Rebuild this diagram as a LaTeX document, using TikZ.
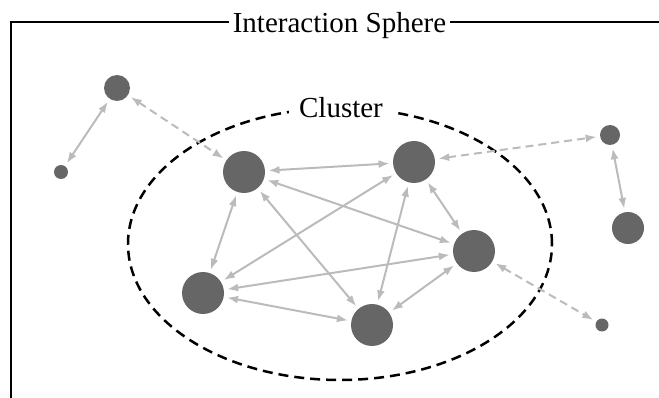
\documentclass[tikz,border=0pt]{standalone}
\usepackage{fontspec}
\setmainfont{Liberation Serif}
\usetikzlibrary{arrows.meta}
\definecolor{dotgray}{HTML}{666666}
\definecolor{linkgray}{HTML}{BBBBBB}

\begin{document}
\begin{tikzpicture}[x=1pt, y=-1pt,
  agent/.style={circle, fill=dotgray, inner sep=0pt, outer sep=3.5pt, minimum size=#1},
  link/.style={draw=linkgray, line width=2pt, {Latex[length=11pt,width=8pt]}-{Latex[length=11pt,width=8pt]}},
  weaklink/.style={link, dash pattern=on 8pt off 5pt},
  frame/.style={line width=2.5pt},
  caption/.style={font=\fontsize{29}{34}\selectfont, inner xsep=4pt, inner ysep=2pt}]
  \useasboundingbox (0,0) rectangle (659,398);

  % sphere frame
  \node[caption, anchor=base] (sphere) at (339.5,33) {Interaction Sphere};
  \coordinate (topleft) at (11,22);
  \draw[frame] (11,400) -- (topleft) -- (topleft -| sphere.west);
  \draw[frame] (topleft -| sphere.east) -- (662,22);

  % cluster
  \draw[frame, dash pattern=on 10pt off 6pt] (340,244) ellipse [x radius=212pt, y radius=136pt];
  \node[caption, fill=white, inner xsep=10pt] (cluster) at (341,108) {Cluster};

  % agents
  \node[agent=26pt] (a) at (117,88) {};
  \node[agent=14pt] (b) at (61,172) {};
  \node[agent=42pt] (c) at (244,172) {};
  \node[agent=42pt] (d) at (414,162) {};
  \node[agent=20pt] (e) at (610,135) {};
  \node[agent=32pt] (f) at (628,228) {};
  \node[agent=42pt] (g) at (474,251) {};
  \node[agent=42pt] (h) at (203,293) {};
  \node[agent=42pt] (i) at (372,325) {};
  \node[agent=13pt] (j) at (602,325) {};

  % links inside
  \draw[link] (c) -- (d);
  \draw[link] (c) -- (g);
  \draw[link] (c) -- (h);
  \draw[link] (c) -- (i);
  \draw[link] (d) -- (g);
  \draw[link] (d) -- (h);
  \draw[link] (d) -- (i);
  \draw[link] (g) -- (h);
  \draw[link] (g) -- (i);
  \draw[link] (h) -- (i);

  % links outside
  \draw[link] (a) -- (b);
  \draw[link] (e) -- (f);
  \draw[weaklink] (a) -- (c);
  \draw[weaklink] (d) -- (e);
  \draw[weaklink] (g) -- (j);
\end{tikzpicture}
\end{document}
